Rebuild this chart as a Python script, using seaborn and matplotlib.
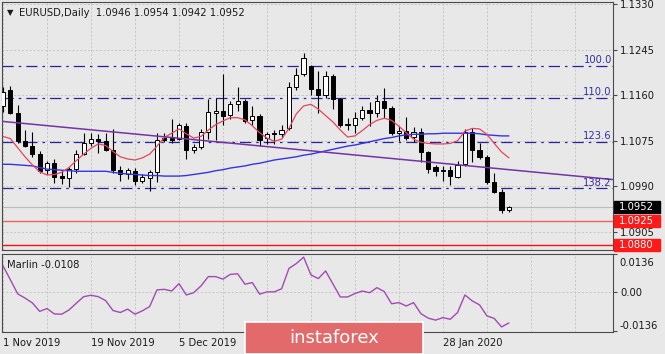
import numpy as np
import pandas as pd
import matplotlib
matplotlib.use("Agg")
import matplotlib.pyplot as plt
import matplotlib.transforms as mtransforms
from matplotlib.patches import Rectangle
import seaborn as sns

'''DATA (read off the chart)'''
symbol = "EURUSD,Daily"
last_ohlc = "1.0946 1.0954 1.0942 1.0952"

opens = [1.1140, 1.1170, 1.1126, 1.1075, 1.1065, 1.1050, 1.1021, 1.1033, 1.1009, 1.1006,
         1.1022, 1.1051, 1.1071, 1.1078, 1.1075, 1.1058, 1.1021, 1.1012, 1.1018, 1.0999,
         1.1006, 1.1017, 1.1080, 1.1081, 1.1078, 1.1103, 1.1057, 1.1064, 1.1092, 1.1127,
         1.1131, 1.1123, 1.1144, 1.1149, 1.1113, 1.1121, 1.1080, 1.1089, 1.1087, 1.1098,
         1.1176, 1.1199, 1.1215, 1.1172, 1.1160, 1.1195, 1.1153, 1.1106, 1.1104, 1.1117,
         1.1133, 1.1127, 1.1149, 1.1136, 1.1090, 1.1094, 1.1082, 1.1092, 1.1054, 1.1026,
         1.1021, 1.1021, 1.1008, 1.1031, 1.1092, 1.1058, 1.1045, 1.0998, 1.0980, 1.0946]
highs = [1.1175, 1.1178, 1.1141, 1.1095, 1.1092, 1.1055, 1.1038, 1.1040, 1.1020, 1.1026,
         1.1058, 1.1089, 1.1090, 1.1087, 1.1090, 1.1097, 1.1027, 1.1025, 1.1024, 1.1012,
         1.1020, 1.1090, 1.1090, 1.1116, 1.1108, 1.1108, 1.1069, 1.1096, 1.1152, 1.1154,
         1.1200, 1.1150, 1.1175, 1.1152, 1.1140, 1.1125, 1.1092, 1.1095, 1.1105, 1.1185,
         1.1210, 1.1239, 1.1217, 1.1205, 1.1205, 1.1200, 1.1155, 1.1118, 1.1129, 1.1140,
         1.1147, 1.1160, 1.1173, 1.1140, 1.1102, 1.1120, 1.1100, 1.1098, 1.1055, 1.1030,
         1.1027, 1.1028, 1.1038, 1.1096, 1.1098, 1.1070, 1.1049, 1.1015, 1.0985, 1.0954]
lows = [1.1128, 1.1124, 1.1070, 1.1063, 1.1045, 1.1014, 1.1013, 1.0996, 1.0995, 1.0989,
        1.1015, 1.1048, 1.1065, 1.1052, 1.1055, 1.1014, 1.1000, 1.1003, 1.0992, 1.0996,
        1.0981, 1.0998, 1.1072, 1.1070, 1.1076, 1.1040, 1.1052, 1.1060, 1.1078, 1.1077,
        1.1105, 1.1115, 1.1130, 1.1108, 1.1105, 1.1065, 1.1068, 1.1068, 1.1080, 1.1095,
        1.1170, 1.1195, 1.1160, 1.1126, 1.1155, 1.1135, 1.1100, 1.1095, 1.1090, 1.1113,
        1.1102, 1.1120, 1.1118, 1.1086, 1.1075, 1.1077, 1.1072, 1.1036, 1.1015, 1.1009,
        1.0999, 1.0992, 1.1005, 1.1027, 1.1035, 1.1040, 1.0995, 1.0977, 1.0941, 1.0942]
closes = [1.1166, 1.1127, 1.1074, 1.1066, 1.1051, 1.1018, 1.1033, 1.1008, 1.1006, 1.1022,
          1.1051, 1.1071, 1.1079, 1.1075, 1.1058, 1.1021, 1.1013, 1.1020, 1.1000, 1.1007,
          1.1016, 1.1077, 1.1077, 1.1076, 1.1104, 1.1058, 1.1064, 1.1092, 1.1129, 1.1131,
          1.1121, 1.1143, 1.1150, 1.1112, 1.1121, 1.1077, 1.1088, 1.1087, 1.1095, 1.1175,
          1.1198, 1.1229, 1.1172, 1.1160, 1.1195, 1.1153, 1.1104, 1.1105, 1.1118, 1.1133,
          1.1127, 1.1149, 1.1136, 1.1090, 1.1093, 1.1081, 1.1091, 1.1054, 1.1023, 1.1018,
          1.1019, 1.1010, 1.1030, 1.1092, 1.1058, 1.1045, 1.0998, 1.0980, 1.0946, 1.0952]

# red (fast) and blue (slow) averages
ma_fast = [1.1083, 1.1079, 1.1062, 1.1045, 1.1030, 1.1017, 1.1011, 1.1012, 1.1016, 1.1025,
           1.1038, 1.1050, 1.1061, 1.1069, 1.1066, 1.1055, 1.1045, 1.1041, 1.1039, 1.1043,
           1.1050, 1.1065, 1.1081, 1.1089, 1.1097, 1.1088, 1.1080, 1.1083, 1.1095, 1.1105,
           1.1112, 1.1118, 1.1118, 1.1114, 1.1103, 1.1090, 1.1080, 1.1074, 1.1078, 1.1098,
           1.1125, 1.1140, 1.1143, 1.1134, 1.1122, 1.1110, 1.1095, 1.1082, 1.1084, 1.1094,
           1.1105, 1.1113, 1.1117, 1.1113, 1.1102, 1.1090, 1.1078, 1.1072, 1.1070, 1.1069,
           1.1069, 1.1070, 1.1075, 1.1093, 1.1098, 1.1097, 1.1087, 1.1070, 1.1054, 1.1043]
ma_slow = [1.1031, 1.1031, 1.1030, 1.1029, 1.1028, 1.1025, 1.1022, 1.1021, 1.1020, 1.1019,
           1.1018, 1.1018, 1.1018, 1.1018, 1.1018, 1.1016, 1.1014, 1.1013, 1.1012, 1.1011,
           1.1010, 1.1010, 1.1009, 1.1009, 1.1009, 1.1010, 1.1012, 1.1014, 1.1016, 1.1019,
           1.1021, 1.1024, 1.1026, 1.1028, 1.1031, 1.1033, 1.1036, 1.1039, 1.1041, 1.1043,
           1.1045, 1.1048, 1.1050, 1.1053, 1.1056, 1.1059, 1.1062, 1.1065, 1.1067, 1.1070,
           1.1073, 1.1076, 1.1079, 1.1081, 1.1084, 1.1086, 1.1087, 1.1087, 1.1088, 1.1088,
           1.1089, 1.1089, 1.1089, 1.1089, 1.1089, 1.1088, 1.1086, 1.1085, 1.1084, 1.1084]

marlin = [0.0094, 0.0045, -0.0005, -0.0020, -0.0037, -0.0067, -0.0057, -0.0076, -0.0077, -0.0062,
          -0.0038, -0.0015, -0.0010, -0.0015, -0.0029, -0.0064, -0.0071, -0.0059, -0.0077, -0.0065,
          -0.0050, 0.0009, 0.0011, 0.0005, 0.0031, -0.0009, -0.0001, 0.0023, 0.0056, 0.0056,
          0.0047, 0.0064, 0.0066, 0.0029, 0.0035, -0.0006, 0.0002, 0.0002, 0.0013, 0.0085,
          0.0102, 0.0125, 0.0062, 0.0049, 0.0076, 0.0030, -0.0016, -0.0016, -0.0004, 0.0005,
          -0.0001, 0.0017, 0.0003, -0.0040, -0.0036, -0.0048, -0.0036, -0.0075, -0.0091, -0.0098,
          -0.0089, -0.0095, -0.0071, -0.0009, -0.0030, -0.0044, -0.0083, -0.0092, -0.0122, -0.0108]
marlin_label = "Marlin -0.0108"

# trend line (two anchor bars/prices)
trend_bars = [0, 69]
trend_prices = [1.1111, 1.1021]

# fibonacci expansion levels
fib_labels = ["100.0", "110.0", "123.6", "138.2"]
fib_prices = [1.1215, 1.1155, 1.1073, 1.0986]

# support levels and current price
support_prices = [1.0925, 1.0880]
bid_price = 1.0952

price_ticks = [1.1330, 1.1245, 1.1160, 1.1075, 1.0990, 1.0905]
marlin_ticks = [0.0136, 0.0, -0.0136]
marlin_tick_labels = ["0.0136", "0.00", "-0.0136"]
date_tick_bars = [0, 12, 24, 36, 48, 60]
# 23 Dec / 10 Jan sit under the watermark and are not visible
date_tick_labels = ["1 Nov 2019", "19 Nov 2019", "5 Dec 2019", "", "", "28 Jan 2020"]

#%%
'''FRAME'''
df = pd.DataFrame({"bar": np.arange(len(opens)), "open": opens, "high": highs, "low": lows,
                   "close": closes, "ma_fast": ma_fast, "ma_slow": ma_slow, "marlin": marlin})

sns.set_style("white")
plt.rcParams['font.family'] = ['DejaVu Sans']
bg = '#e8e8e8'
fs = 7.2

fig = plt.figure(figsize=(6.65, 3.54), dpi=100, facecolor=bg)
ax = fig.add_axes([2/665, 1-250/354, 611/665, 248/354], facecolor=bg)
ax2 = fig.add_axes([2/665, 1-332/354, 611/665, 78/354], facecolor=bg)

grid_minor = [6, 18, 30, 42, 54, 66, 72, 78]
for a in (ax, ax2):
    a.set_xlim(-0.14, 83.2)
    for s in a.spines.values():
        s.set_color('#4a4a4a')
        s.set_linewidth(0.8)
    a.yaxis.tick_right()
    a.set_xticks(date_tick_bars)
    a.set_xticks(grid_minor, minor=True)
    a.grid(True, which='both', ls=(0, (2, 2)), color='#c4c4c4', lw=0.7)
    a.set_axisbelow(True)
    a.tick_params(axis='y', direction='out', length=3, width=0.8, pad=2,
                  labelsize=fs, colors='#4a4a4a', labelcolor='#1a1a1a')
    a.tick_params(axis='x', which='minor', length=0)

#%%
'''MAIN PANEL'''
ax.set_ylim(1.0871, 1.1334)
ax.set_yticks(price_ticks)
ax.set_yticklabels([f"{p:.4f}" for p in price_ticks])
ax.tick_params(axis='x', which='both', length=0, labelbottom=False)

up = df.close >= df.open
ax.vlines(df.bar, df.low, df.high, color='black', lw=0.8, zorder=3)
ax.bar(df.bar[up], (df.close - df.open)[up], bottom=df.open[up], width=0.58,
       color='white', edgecolor='black', lw=0.7, zorder=4)
ax.bar(df.bar[~up], (df.open - df.close)[~up], bottom=df.close[~up], width=0.58,
       color='black', edgecolor='black', lw=0.7, zorder=4)

sns.lineplot(data=df, x='bar', y='ma_slow', ax=ax, color='#3434e6', lw=1.0, zorder=5)
sns.lineplot(data=df, x='bar', y='ma_fast', ax=ax, color='#e24660', lw=0.9, zorder=5)
ax.axline((trend_bars[0], trend_prices[0]), (trend_bars[1], trend_prices[1]),
          color='#7434a4', lw=1.1, zorder=5)

blend = mtransforms.blended_transform_factory(ax.transAxes, ax.transData)
for lab, p in zip(fib_labels, fib_prices):
    ax.axhline(p, color='#24249e', lw=0.9, ls=(0, (9, 4, 2, 4)), zorder=2)
    ax.text(0.998, p + 0.0001, lab, transform=blend, ha='right', va='bottom',
            fontsize=fs, color='#3030a8', zorder=6)

ax.axhline(bid_price, color='#bcbcbc', lw=0.8, zorder=2)
ax.axhline(support_prices[0], color='#f06262', lw=1.0, zorder=2)
ax.axhline(support_prices[1], color='#ff1010', lw=1.0, zorder=2)

# price boxes on the scale
box_h = 0.00225
for p, fc in [(bid_price, 'black'), (support_prices[0], '#ff1a1a'), (support_prices[1], '#ff1a1a')]:
    ax.add_patch(Rectangle((1.0015, p - box_h/2), 46/611, box_h, transform=blend,
                           facecolor=fc, edgecolor=fc, clip_on=False, zorder=7))
    ax.text(1.0 + 6/611, p, f"{p:.4f}", transform=blend, ha='left', va='center',
            fontsize=fs, color='white', zorder=8, clip_on=False)

ax.set_xlabel('')
ax.set_ylabel('')

#%%
'''MARLIN PANEL'''
sns.lineplot(data=df, x='bar', y='marlin', ax=ax2, color='#a24ab4', lw=1.0, zorder=5)
ax2.set_ylim(-0.0140, 0.0136)
ax2.set_yticks(marlin_ticks)
ax2.set_yticklabels(["", marlin_tick_labels[1], marlin_tick_labels[2]])
ax2.yaxis.grid(False)
ax2.axhline(0.0, color='#c4c4c4', lw=0.7, ls=(0, (2, 2)), zorder=1)
ax2.get_yticklabels()[2].set_va('bottom')
# top scale value sits a little below the panel edge, MT4 style
ax2.text(1.0 + 6/611, 1 - 9/78, marlin_tick_labels[0], transform=ax2.transAxes,
         fontsize=fs, color='#1a1a1a', ha='left', va='center', clip_on=False)
ax2.set_xticklabels(date_tick_labels)
for lab in ax2.get_xticklabels():
    lab.set_ha('left')
ax2.tick_params(axis='x', which='major', direction='out', length=3, width=0.8, pad=1,
                labelsize=fs, colors='#4a4a4a', labelcolor='#1a1a1a')
ax2.text(5/611, 0.86, marlin_label, transform=ax2.transAxes, fontsize=fs,
         color='#1a1a1a', ha='left', va='center')
ax2.set_xlabel('')
ax2.set_ylabel('')

#%%
'''HEADER + WATERMARK'''
fig.text(7/665, 1-13/354, "\u25bc", fontsize=6, color='#1a1a1a', va='center')
fig.text(19/665, 1-13/354, symbol + "  " + last_ohlc, fontsize=fs, color='#1a1a1a', va='center')

fig.add_artist(Rectangle((245/665, 0), 178/665, 32/354, transform=fig.transFigure,
                         facecolor='#e36a6a', edgecolor='white', lw=1.2, zorder=10))
fig.text(334/665, 1-338/354, "instaforex", fontsize=13, color='white', ha='center',
         va='center', zorder=11)

plt.savefig("out.png", dpi=100, facecolor=bg)
